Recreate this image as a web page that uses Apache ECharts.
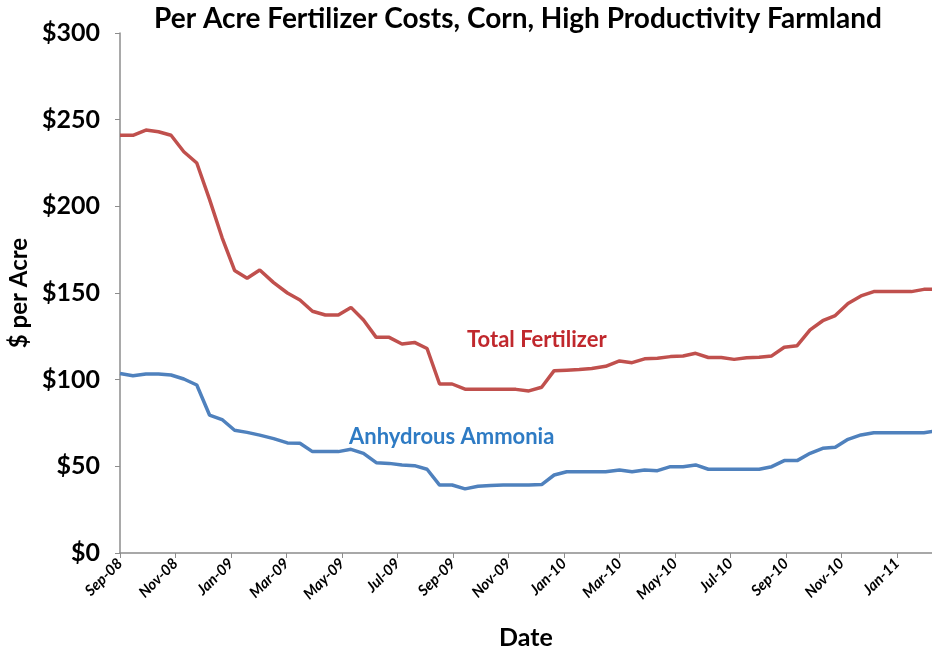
<!DOCTYPE html>
<html lang="en" style="height: 100%">
<head>
  <meta charset="utf-8">
</head>
<body style="height: 100%; margin: 0; background: #fff">
<div id="container" style="width: 932px; height: 652px"></div>

<script type="text/javascript" src="https://cdn.jsdelivr.net/npm/echarts@6/dist/echarts.min.js"></script>

<script type="text/javascript">
  // biweekly price dates
  var dates = [
    '2008-09-01','2008-09-15','2008-09-29','2008-10-13','2008-10-27','2008-11-10','2008-11-24','2008-12-08','2008-12-22',
    '2009-01-05','2009-01-19','2009-02-02','2009-02-16','2009-03-02','2009-03-16','2009-03-30','2009-04-13','2009-04-27',
    '2009-05-11','2009-05-25','2009-06-08','2009-06-22','2009-07-06','2009-07-20','2009-08-03','2009-08-17','2009-08-31',
    '2009-09-14','2009-09-28','2009-10-12','2009-10-26','2009-11-09','2009-11-23','2009-12-07','2009-12-21',
    '2010-01-04','2010-01-18','2010-02-01','2010-02-15','2010-03-01','2010-03-15','2010-03-29','2010-04-12','2010-04-26',
    '2010-05-10','2010-05-24','2010-06-07','2010-06-21','2010-07-05','2010-07-19','2010-08-02','2010-08-16','2010-08-30',
    '2010-09-13','2010-09-27','2010-10-11','2010-10-25','2010-11-08','2010-11-22','2010-12-06','2010-12-20',
    '2011-01-03','2011-01-17','2011-01-31','2011-02-14'
  ];

  var totalFertilizer = [
    241, 241, 244, 243, 241, 231.5, 225, 204, 182,
    163, 158.5, 163.3, 156, 150, 146, 139.5, 137.3, 137.3,
    141.7, 134.4, 124.4, 124.4, 120.6, 121.5, 118, 97.5, 97.5,
    94.5, 94.5, 94.5, 94.5, 94.4, 93.5, 95.6, 105.2,
    105.5, 105.8, 106.5, 107.7, 110.8, 109.8, 112, 112.3, 113.3,
    113.7, 115.2, 112.8, 112.8, 111.7, 112.7, 112.9, 113.7, 118.7,
    119.6, 128.7, 134, 137, 144, 148.3, 150.8, 150.8,
    150.8, 150.8, 152.1, 152.3
  ];

  var anhydrousAmmonia = [
    103.5, 102.3, 103.3, 103.3, 102.7, 100.4, 96.9, 79.6, 77,
    70.8, 69.6, 68, 66, 63.5, 63.3, 58.5, 58.5, 58.5,
    59.8, 57.5, 52.1, 51.7, 50.8, 50.4, 48.3, 39.2, 39.2,
    37, 38.5, 39, 39.2, 39.2, 39.2, 39.5, 45,
    46.9, 46.9, 46.9, 46.9, 47.9, 46.9, 47.9, 47.5, 49.8,
    49.8, 50.8, 48.3, 48.3, 48.3, 48.3, 48.3, 49.8, 53.3,
    53.3, 57.5, 60.4, 61, 65.6, 68.1, 69.4, 69.4,
    69.4, 69.4, 69.4, 70.5
  ];

  var xTickLabels = ['Sep-08','Nov-08','Jan-09','Mar-09','May-09','Jul-09','Sep-09','Nov-09',
    'Jan-10','Mar-10','May-10','Jul-10','Sep-10','Nov-10','Jan-11'];
  var yTickLabels = ['$0','$50','$100','$150','$200','$250','$300'];

  // months since 1 Sep 2008, so that ticks sit on the first of each month
  function monthOffset(s) {
    var p = s.split('-');
    var y = +p[0], m = +p[1], d = +p[2];
    var dim = new Date(y, m, 0).getDate();
    return (y - 2008) * 12 + (m - 9) + (d - 1) / dim;
  }
  function pairs(values) {
    return dates.map(function (s, i) { return [monthOffset(s), values[i]]; });
  }

  var FONT = 'Lato';
  var dom = document.getElementById('container');
  var myChart = echarts.init(dom, null, { renderer: 'canvas' });

  var option = {
    backgroundColor: '#fff',
    animation: false,
    title: {
      text: 'Per Acre Fertilizer Costs, Corn, High Productivity Farmland',
      left: 518,
      top: 5,
      padding: 0,
      textAlign: 'center',
      textStyle: { fontFamily: FONT, fontWeight: 'bold', fontSize: 28, color: '#000' }
    },
    grid: { left: 120, top: 33, right: 0, bottom: 99, outerBoundsMode: 'none' },
    xAxis: {
      type: 'value',
      min: 0,
      max: 29.26,
      interval: 2,
      name: 'Date',
      nameLocation: 'middle',
      nameGap: 72,
      nameTextStyle: { fontFamily: FONT, fontWeight: 'bold', fontSize: 25, color: '#000' },
      splitLine: { show: false },
      axisLine: { lineStyle: { color: '#8c8c8c', width: 1.5 } },
      axisTick: { length: 5, lineStyle: { color: '#8c8c8c' } },
      axisLabel: {
        rotate: 45,
        showMaxLabel: false,
        margin: 8,
        fontFamily: FONT,
        fontWeight: 'bold',
        fontStyle: 'italic',
        fontSize: 15,
        color: '#000',
        formatter: function (v) {
          var k = Math.round(v / 2);
          return Math.abs(v - k * 2) < 1e-6 && xTickLabels[k] ? xTickLabels[k] : '';
        }
      }
    },
    yAxis: {
      type: 'value',
      min: 0,
      max: 300,
      interval: 50,
      name: '$ per Acre',
      nameLocation: 'middle',
      nameGap: 88,
      nameTextStyle: { fontFamily: FONT, fontWeight: 'bold', fontSize: 24, color: '#000' },
      splitLine: { show: false },
      axisLine: { show: true, lineStyle: { color: '#8c8c8c', width: 1.5 } },
      axisTick: { show: true, length: 5, lineStyle: { color: '#8c8c8c' } },
      axisLabel: {
        margin: 20,
        fontFamily: FONT,
        fontWeight: 'bold',
        fontSize: 25,
        color: '#000',
        formatter: function (v) { return yTickLabels[v / 50]; }
      }
    },
    series: [
      {
        name: 'Total Fertilizer',
        type: 'line',
        data: pairs(totalFertilizer),
        showSymbol: false,
        lineStyle: { color: '#c0504d', width: 3.5 },
        itemStyle: { color: '#c0504d' }
      },
      {
        name: 'Anhydrous Ammonia',
        type: 'line',
        data: pairs(anhydrousAmmonia),
        showSymbol: false,
        lineStyle: { color: '#4f81bd', width: 3.5 },
        itemStyle: { color: '#4f81bd' }
      }
    ],
    graphic: [
      {
        type: 'text',
        x: 467, y: 340,
        style: { text: 'Total Fertilizer', fill: '#c0282d', font: 'bold 22px ' + FONT, verticalAlign: 'middle' }
      },
      {
        type: 'text',
        x: 349, y: 437,
        style: { text: 'Anhydrous Ammonia', fill: '#2e7bc4', font: 'bold 22px ' + FONT, verticalAlign: 'middle' }
      }
    ]
  };

  myChart.setOption(option);
  window.addEventListener('resize', myChart.resize);
</script>
</body>
</html>
